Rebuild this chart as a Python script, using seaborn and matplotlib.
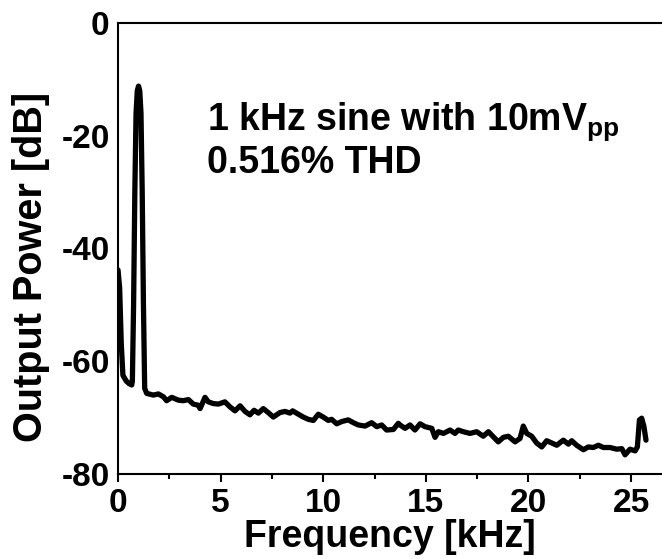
import numpy as np
import pandas as pd
import matplotlib
matplotlib.use("Agg")
import matplotlib.pyplot as plt
import seaborn as sns
from matplotlib.ticker import MultipleLocator

freq_khz = [
    0.0, 0.08, 0.16, 0.24, 0.4, 0.55, 0.67, 0.70, 0.76, 0.82, 0.88, 0.94, 1.0,
    1.06, 1.12, 1.18, 1.24, 1.30, 1.4, 1.72, 1.97, 2.21, 2.37, 2.62, 2.94, 3.18,
    3.43, 3.67, 3.91, 4.0, 4.24, 4.40, 4.64, 4.89, 5.21, 5.46, 5.70, 5.95, 6.19,
    6.43, 6.63, 6.84, 7.08, 7.32, 7.57, 7.89, 8.14, 8.38, 8.51, 8.79, 9.03, 9.27,
    9.52, 9.76, 10.0, 10.25, 10.41, 10.66, 10.9, 11.22, 11.47, 11.71, 12.04,
    12.36, 12.61, 12.85, 13.09, 13.42, 13.66, 13.74, 13.99, 14.23, 14.47, 14.72,
    14.96, 15.29, 15.45, 15.61, 15.86, 16.18, 16.42, 16.58, 16.83, 17.15, 17.48,
    17.8, 18.05, 18.29, 18.53, 18.78, 19.02, 19.35, 19.59, 19.75, 19.92, 20.16,
    20.4, 20.65, 20.89, 21.14, 21.38, 21.7, 21.95, 22.11, 22.35, 22.68, 22.92,
    23.16, 23.41, 23.65, 23.98, 24.3, 24.55, 24.71, 24.95, 25.2, 25.31, 25.41,
    25.52, 25.63, 25.73,
]
power_db = [
    -43.8, -47.0, -57.0, -62.5, -63.5, -64.0, -64.2, -63.5, -50.0, -30.0, -16.0,
    -12.0, -11.2, -12.0, -16.0, -30.0, -50.0, -64.8, -65.7, -66.0, -65.8, -66.3,
    -67.0, -66.4, -66.9, -67.0, -66.8, -67.6, -67.8, -68.4, -66.4, -67.2, -67.5,
    -67.6, -67.2, -68.1, -68.8, -67.9, -68.9, -69.5, -68.7, -69.2, -68.4, -69.1,
    -69.9, -69.1, -68.9, -69.2, -68.8, -69.4, -69.9, -70.3, -70.5, -69.4, -69.9,
    -70.5, -70.3, -71.1, -70.7, -70.4, -70.9, -71.3, -71.5, -70.9, -71.6, -71.3,
    -72.2, -72.1, -71.0, -71.3, -71.9, -71.3, -72.2, -71.1, -71.6, -71.9, -73.5,
    -72.5, -72.8, -72.2, -72.8, -72.2, -72.5, -72.8, -72.5, -73.3, -72.5, -73.4,
    -74.3, -73.5, -73.3, -74.3, -73.7, -71.5, -72.8, -73.3, -74.5, -75.2, -74.1,
    -74.5, -74.9, -74.0, -74.7, -74.1, -74.9, -75.7, -75.2, -75.3, -74.9, -75.3,
    -75.3, -75.6, -75.5, -76.6, -75.6, -75.9, -75.2, -70.4, -70.1, -71.6, -74.0,
]
x_ticks = [0, 5, 10, 15, 20, 25]
y_ticks = [-80, -60, -40, -20, 0]
x_label = "Frequency [kHz]"
y_label = "Output Power [dB]"
note_line1 = "1 kHz sine with 10mV$_{\\mathrm{pp}}$"
note_line2 = "0.516% THD"

df = pd.DataFrame({"freq": freq_khz, "power": power_db})

sns.set_theme(style="ticks")
plt.rcParams["font.family"] = ["Liberation Sans", "DejaVu Sans"]
plt.rcParams["font.weight"] = "bold"
plt.rcParams["mathtext.fontset"] = "custom"
plt.rcParams["mathtext.rm"] = "Liberation Sans:bold"
plt.rcParams["mathtext.bf"] = "Liberation Sans:bold"
plt.rcParams["text.color"] = "black"
plt.rcParams["axes.labelcolor"] = "black"

fig = plt.figure(figsize=(6.62, 5.59), dpi=100)
ax = fig.add_axes([118 / 662, 85 / 559, 1 - 118 / 662, (474 - 23) / 559])

sns.lineplot(data=df, x="freq", y="power", ax=ax, color="black",
             linewidth=3.8, sort=False, estimator=None)

ax.set_xlim(0, 26.51)
ax.set_ylim(-80, 0)
ax.set_xticks(x_ticks)
ax.set_yticks(y_ticks)
ax.set_xticklabels([str(t) for t in x_ticks], fontsize=24, fontweight="bold")
ax.set_yticklabels([str(t) for t in y_ticks], fontsize=24, fontweight="bold")
ax.xaxis.set_minor_locator(MultipleLocator(2.5))

for side in ["left", "bottom", "top"]:
    ax.spines[side].set_linewidth(1.5)
    ax.spines[side].set_color("black")
ax.spines["right"].set_visible(False)

ax.tick_params(axis="x", which="major", direction="out", length=6, width=1.5,
               pad=4, colors="black", top=False)
ax.tick_params(axis="x", which="minor", direction="out", length=3.5, width=1.5,
               top=False, colors="black")
ax.tick_params(axis="y", which="both", length=0, pad=6, colors="black")

ax.set_xlabel(x_label, fontsize=27, fontweight="bold", color="black")
ax.set_ylabel(y_label, fontsize=28.5, fontweight="bold", color="black")
ax.xaxis.set_label_coords(0.5, -0.1)
ax.yaxis.set_label_coords(-0.125, 0.46)

ax.text(4.34, -18.98, note_line1, fontsize=27, fontweight="bold",
        va="baseline", ha="left", color="black")
ax.text(4.34, -26.6, note_line2, fontsize=27, fontweight="bold",
        va="baseline", ha="left", color="black")

ax.grid(False)
fig.savefig("out.png", dpi=100)
